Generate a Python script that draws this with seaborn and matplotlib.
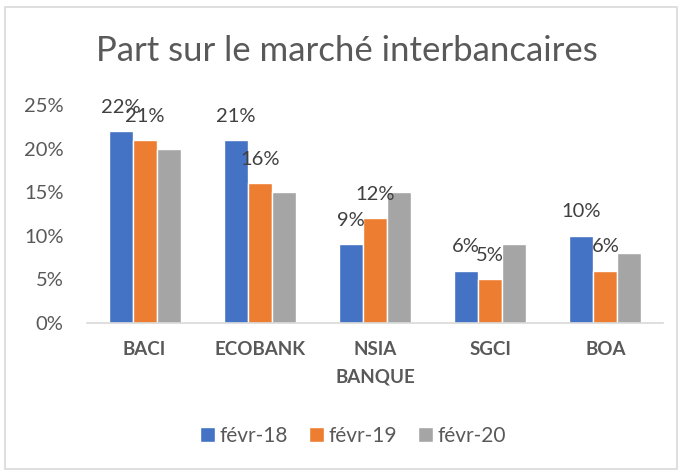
import pandas as pd
import numpy as np
import matplotlib.pyplot as plt
import seaborn as sns
from matplotlib.patches import Rectangle

banques = ['BACI', 'ECOBANK', 'NSIA\nBANQUE', 'SGCI', 'BOA']
periodes = ['févr-18', 'févr-19', 'févr-20']
fevr18 = [22, 21, 9, 6, 10]
fevr19 = [21, 16, 12, 5, 6]
fevr20 = [20, 15, 15, 9, 8]
couleurs = ['#4472C4', '#ED7D31', '#A5A5A5']

df = pd.DataFrame({'banque': banques * 3,
                   'periode': [p for p in periodes for _ in banques],
                   'part': fevr18 + fevr19 + fevr20})

sns.set_theme(style="white")
plt.rcParams['font.family'] = ['Lato', 'DejaVu Sans']

fig = plt.figure(figsize=(6.82, 4.74), dpi=100)
ax = fig.add_axes([0.1276, 0.3186, 0.8446, 0.46])
sns.barplot(data=df, x='banque', y='part', hue='periode', palette=couleurs,
            width=0.625, ax=ax, saturation=1)

# étiquettes seulement pour févr-18 et févr-19
for cont in ax.containers[:2]:
    ax.bar_label(cont, labels=[f'{int(v)}%' for v in cont.datavalues],
                 padding=11, fontsize=14.5, color='#404040')

ax.set_ylim(0, 25)
ax.set_xlim(-0.5, 4.5)
ax.set_yticks([0, 5, 10, 15, 20, 25])
ax.set_yticklabels([f'{t}%' for t in [0, 5, 10, 15, 20, 25]], fontsize=14.5, color='#595959')
ax.set_xticks(range(len(banques)))
ax.set_xticklabels(banques, fontsize=13.5, fontweight='bold', color='#595959',
                   linespacing=1.75, va='top')
ax.tick_params(axis='x', pad=13, length=0)
ax.tick_params(axis='y', length=0, pad=17)
ax.set_xlabel('')
ax.set_ylabel('')
for s in ['top', 'right', 'left']:
    ax.spines[s].set_visible(False)
ax.spines['bottom'].set_color('#D9D9D9')
ax.spines['bottom'].set_linewidth(1.2)

ax.legend(loc='center', bbox_to_anchor=(0.518, 0.08), bbox_transform=fig.transFigure,
          ncol=3, frameon=False, fontsize=15, handlelength=0.7, handleheight=0.7,
          handletextpad=0.25, columnspacing=1.0, labelcolor='#595959')

fig.text(0.508, 0.893, 'Part sur le marché interbancaires', ha='center', va='center',
         fontsize=25, color='#595959')
fig.patches.append(Rectangle((0.007, 0.01), 0.986, 0.975, transform=fig.transFigure,
                             fill=False, edgecolor='#D9D9D9', linewidth=1.2))

fig.savefig('out.png', dpi=100)
